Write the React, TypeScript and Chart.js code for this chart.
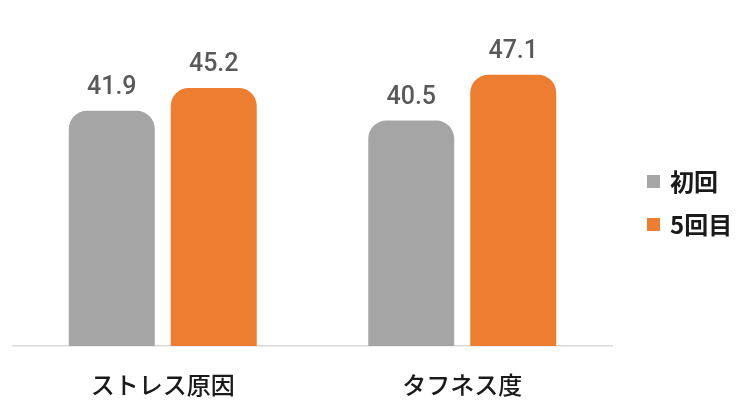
import { useEffect, useRef } from "react"
import { Chart, registerables } from "chart.js"

Chart.register(...registerables)

const categories = ["ストレス原因", "タフネス度"]
const seriesNames = ["初回", "5回目"]
const firstValues = [41.9, 40.5]
const fifthValues = [45.2, 47.1]
const seriesColors = ["#a5a5a5", "#ed7d31"]

const FONT = "Roboto, 'Noto Sans CJK JP', sans-serif"
const JP_FONT = "'Noto Sans CJK JP', 'Noto Sans', sans-serif"

// draws the number above each bar
const valueLabels = {
  id: "valueLabels",
  afterDatasetsDraw(chart: Chart) {
    const ctx = chart.ctx
    ctx.save()
    ctx.font = `500 25px ${FONT}`
    ctx.fillStyle = "#595959"
    ctx.textAlign = "center"
    ctx.textBaseline = "alphabetic"
    chart.data.datasets.forEach((ds, i) => {
      const meta = chart.getDatasetMeta(i)
      meta.data.forEach((bar, j) => {
        const v = ds.data[j] as number
        ctx.fillText(v.toFixed(1), bar.x, bar.y - 17)
      })
    })
    ctx.restore()
  },
}

export default function App() {
  const chartRef = useRef<HTMLCanvasElement>(null)

  useEffect(() => {
    if (!chartRef.current) return
    const chart = new Chart(chartRef.current, {
      type: "bar",
      data: {
        labels: categories,
        datasets: [firstValues, fifthValues].map((data, i) => ({
          label: seriesNames[i],
          data,
          backgroundColor: seriesColors[i],
          borderRadius: 18,
          borderSkipped: false,
          categoryPercentage: 0.681,
          barPercentage: 0.843,
        })),
      },
      options: {
        responsive: true,
        maintainAspectRatio: false,
        animation: false,
        layout: { padding: { left: 13, right: 132, top: 20, bottom: 8 } },
        scales: {
          x: {
            grid: { display: false, drawTicks: false },
            border: { color: "#d9d9d9", width: 1.5 },
            ticks: {
              padding: 24,
              color: "#1a1a1a",
              font: { family: JP_FONT, size: 24, weight: "500" },
            },
            afterFit: (scale) => {
              scale.height = 52
            },
          },
          y: { display: false, min: 8, max: 55 },
        },
        plugins: {
          legend: { display: false },
          tooltip: { enabled: false },
        },
      },
      plugins: [valueLabels],
    })
    return () => chart.destroy()
  }, [])

  return (
    <div style={{ position: "fixed", left: 0, top: 0, width: 744, height: 406, background: "#fff" }}>
      <canvas ref={chartRef} />
      <div style={{ position: "absolute", left: 647, top: 166 }}>
        {seriesNames.map((name, i) => (
          <div
            key={name}
            style={{ display: "flex", alignItems: "center", height: 30, marginBottom: 13 }}
          >
            <span style={{ width: 13, height: 13, background: seriesColors[i], marginRight: 10 }} />
            <span style={{ font: `700 24px ${JP_FONT}`, color: "#1a1a1a", lineHeight: "30px" }}>{name}</span>
          </div>
        ))}
      </div>
    </div>
  )
}
